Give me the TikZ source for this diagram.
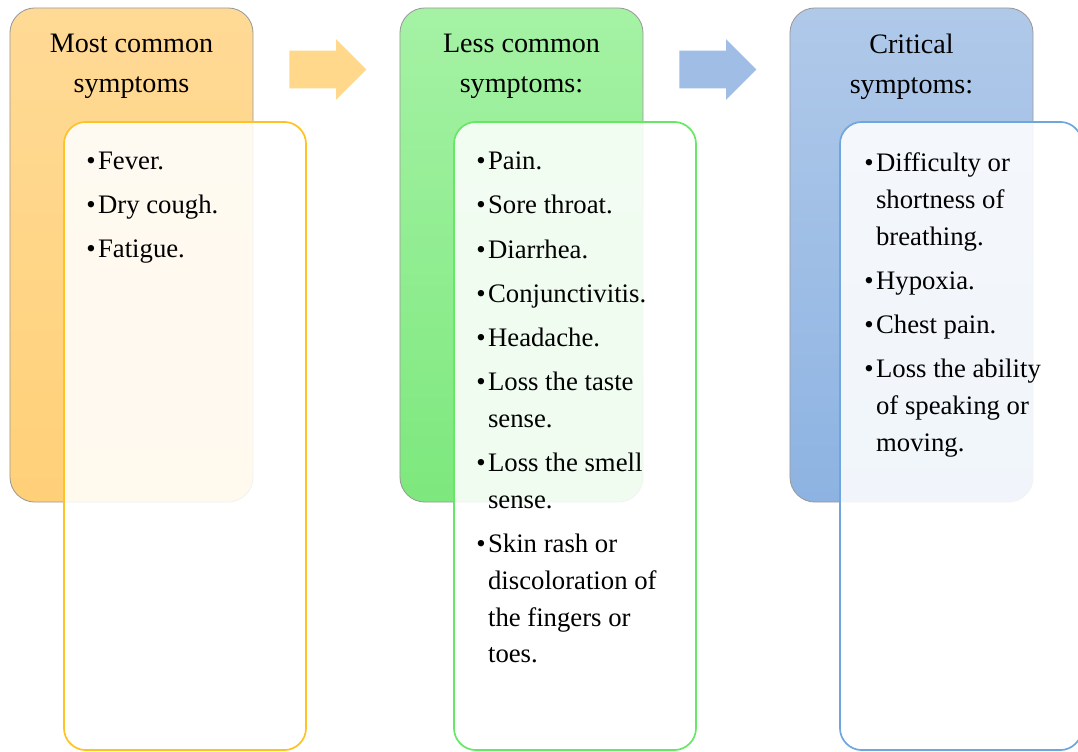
\documentclass[tikz,border=0pt]{standalone}
\usepackage{fontspec}
\setmainfont{Liberation Serif}
\usepackage{tikz}
\usetikzlibrary{shapes.arrows}
\definecolor{symorange}{HTML}{FFDA96}
\definecolor{symorangedk}{HTML}{FFD078}
\definecolor{symorangeline}{HTML}{FFC225}
\definecolor{symgreen}{HTML}{A5F2A5}
\definecolor{symgreendk}{HTML}{7DE87D}
\definecolor{symgreenline}{HTML}{66E866}
\definecolor{symblue}{HTML}{B0C9E9}
\definecolor{symbluedk}{HTML}{8DB3E2}
\definecolor{symblueline}{HTML}{6FA6DE}
\definecolor{arrorange}{HTML}{FFD88C}
\definecolor{arrblue}{HTML}{A0BDE5}

\newlength{\bulletw}
\setlength{\bulletw}{8.4pt}
% one bullet point, later lines hang under the text
\newcommand{\symitem}[1]{\noindent\hangindent=\bulletw\hangafter=1%
    \makebox[\bulletw][l]{\textbullet}#1\par\vspace{5pt}}
\newcommand{\symlist}[1]{\begin{minipage}[t]{5.2cm}\raggedright
    \fontsize{19pt}{26.3pt}\selectfont #1\end{minipage}}

\begin{document}
\begin{tikzpicture}[
    x=0.025cm, y=-0.025cm,
    headbox/.style={rectangle, rounded corners=0.625cm, draw=gray!80, line width=0.6pt,
        minimum width=6.075cm, minimum height=12.35cm, inner sep=0},
    listbox/.style={rectangle, rounded corners=0.55cm, line width=1.2pt, fill=white,
        fill opacity=0.88, minimum width=6.05cm, minimum height=15.7cm, inner sep=0},
    headtext/.style={anchor=north, align=center, inner sep=0,
        font=\fontsize{20pt}{28.5pt}\selectfont},
    listtext/.style={anchor=north west, inner sep=0},
    flowarrow/.style={single arrow, draw=none, minimum height=1.925cm, inner sep=0.4625cm,
        single arrow head extend=0.2875cm},
]
    \useasboundingbox (0,0) rectangle (1078,751);

    % Column 1: most common
    \node[headbox, top color=symorange, bottom color=symorangedk] (head1) at (131.5,255) {};
    \node[listbox, draw=symorangeline] (list1) at (185,436) {};
    \node[headtext] (title1) at (131.5,34) {Most common\\symptoms};
    \node[listtext] (items1) at (86,152) {\symlist{%
        \symitem{Fever.}
        \symitem{Dry cough.}
        \symitem{Fatigue.}}};

    % Column 2: less common
    \node[headbox, top color=symgreen, bottom color=symgreendk] (head2) at (521.5,255) {};
    \node[listbox, draw=symgreenline] (list2) at (575,436) {};
    \node[headtext] (title2) at (521.5,34) {Less common\\symptoms:};
    \node[listtext] (items2) at (476,152) {\symlist{%
        \symitem{Pain.}
        \symitem{Sore throat.}
        \symitem{Diarrhea.}
        \symitem{Conjunctivitis.}
        \symitem{Headache.}
        \symitem{Loss the taste\newline sense.}
        \symitem{Loss the smell\newline sense.}
        \symitem{Skin rash or\newline discoloration of\newline the fingers or\newline toes.}}};

    % Column 3: critical
    \node[headbox, top color=symblue, bottom color=symbluedk] (head3) at (911.5,255) {};
    \node[listbox, draw=symblueline] (list3) at (961,436) {};
    \node[headtext] (title3) at (911.5,34) {Critical\\symptoms:};
    \node[listtext] (items3) at (864,152) {\symlist{%
        \symitem{Difficulty or\newline shortness of\newline breathing.}
        \symitem{Hypoxia.}
        \symitem{Chest pain.}
        \symitem{Loss the ability\newline of speaking or\newline moving.}}};

    % Arrows between the columns
    \node[flowarrow, fill=arrorange] (arr1) at (318.5,69.5) {};
    \node[flowarrow, fill=arrblue] (arr2) at (708.5,69.5) {};
\end{tikzpicture}
\end{document}
